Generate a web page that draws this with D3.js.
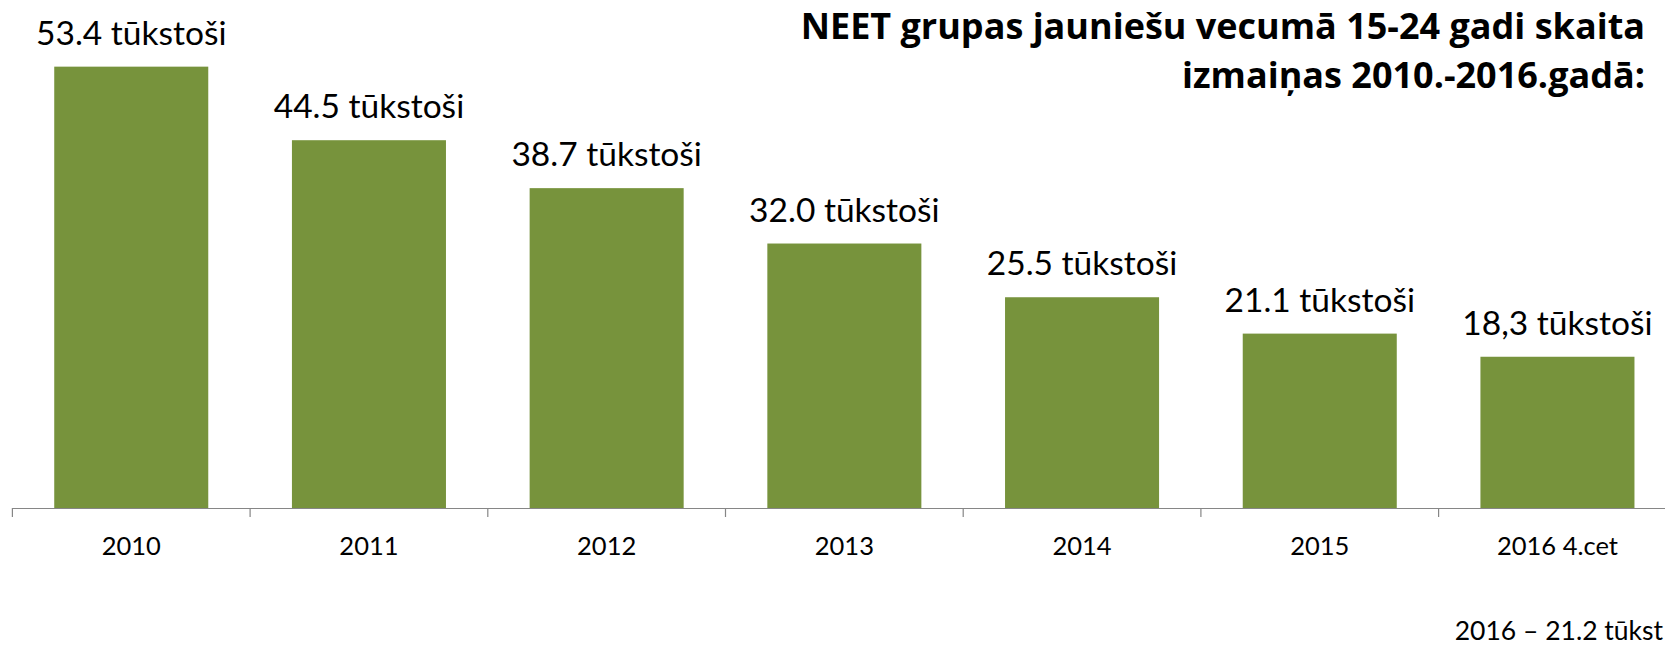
<!DOCTYPE html>
<meta charset="utf-8">
<script src="https://d3js.org/d3.v7.min.js"></script>
<style>
  body { margin: 0; background: #fff; }
  svg { display: block; }
</style>
<body>
<div id="chart"></div>
<script>

// data
var years = ["2010", "2011", "2012", "2013", "2014", "2015", "2016 4.cet"]
var values = [53.4, 44.5, 38.7, 32.0, 25.5, 21.1, 18.3]
var valueLabels = ["53.4 tūkstoši", "44.5 tūkstoši", "38.7 tūkstoši", "32.0 tūkstoši",
                   "25.5 tūkstoši", "21.1 tūkstoši", "18,3 tūkstoši"]
var titleLines = ["NEET grupas jauniešu vecumā 15-24 gadi skaita",
                  "izmaiņas 2010.-2016.gadā:"]
// only this much of the footnote is visible in the original
var note = "2016 – 21.2 tūkst"

var width = 1665,
    height = 647,
    baseY = 508

var svg = d3.select("#chart")
  .append("svg")
    .attr("width", width)
    .attr("height", height)
    .style("font-family", "Lato, 'Open Sans', sans-serif")

// band scale: category boundaries are where the axis ticks go
var x = d3.scaleBand()
  .domain(years)
  .range([12.4, 1676.3])
  .paddingInner(0.352)
  .paddingOuter(0.176)

var y = d3.scaleLinear()
  .domain([0, 60])
  .range([baseY, baseY - 60 * 8.265])

// bars
svg.selectAll("rect.bar")
  .data(values)
  .enter()
  .append("rect")
    .attr("class", "bar")
    .attr("x", function(d, i) { return x(years[i]) })
    .attr("width", x.bandwidth())
    .attr("y", function(d) { return y(d) })
    .attr("height", function(d) { return baseY - y(d) })
    .attr("fill", "#77933C")

// value labels
svg.selectAll("text.val")
  .data(values)
  .enter()
  .append("text")
    .attr("class", "val")
    .attr("x", function(d, i) { return x(years[i]) + x.bandwidth() / 2 })
    .attr("y", function(d) { return y(d) - 22 })
    .attr("text-anchor", "middle")
    .style("font-size", "33.5px")
    .style("fill", "#000")
    .text(function(d, i) { return valueLabels[i] })

// x axis: labels from d3.axisBottom, line and boundary ticks drawn by hand
var axis = svg.append("g")
  .attr("transform", "translate(0," + baseY + ")")
  .call(d3.axisBottom(x).tickSize(0).tickPadding(29))

axis.select(".domain").remove()
axis.selectAll("text")
  .style("font-family", "Lato, 'Open Sans', sans-serif")
  .style("font-size", "25.5px")
  .style("fill", "#000")

var step = x.step(),
    x0 = x.range()[0]

axis.append("line")
  .attr("x1", x0).attr("x2", width)
  .attr("y1", 0.5).attr("y2", 0.5)
  .attr("stroke", "#868686")
  .attr("stroke-width", 1.2)

axis.selectAll("line.bound")
  .data(d3.range(years.length + 1))
  .enter()
  .append("line")
    .attr("class", "bound")
    .attr("x1", function(i) { return x0 + i * step })
    .attr("x2", function(i) { return x0 + i * step })
    .attr("y1", 0)
    .attr("y2", 9)
    .attr("stroke", "#868686")
    .attr("stroke-width", 1.2)

// title, right aligned
svg.selectAll("text.title")
  .data(titleLines)
  .enter()
  .append("text")
    .attr("class", "title")
    .attr("x", 1645)
    .attr("y", function(d, i) { return 39 + i * 49 })
    .attr("text-anchor", "end")
    .style("font-family", "'Open Sans', Lato, sans-serif")
    .style("font-size", "36px")
    .style("font-weight", "bold")
    .style("fill", "#000")
    .text(function(d) { return d })

// footnote in the bottom right corner
svg.append("text")
  .attr("x", 1663)
  .attr("y", 640)
  .attr("text-anchor", "end")
  .style("font-size", "26.5px")
  .style("fill", "#000")
  .text(note)

</script>
</body>
